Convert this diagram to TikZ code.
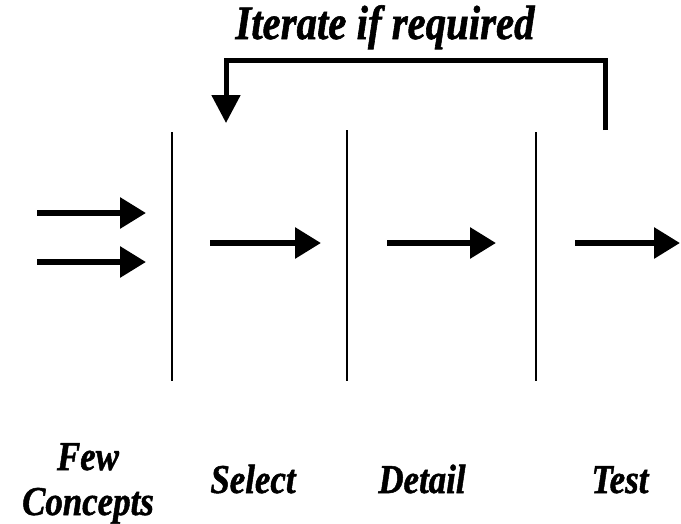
\documentclass[tikz,border=0pt]{standalone}
\usepackage{fontspec}
\setmainfont{Liberation Serif}
\newfontfamily\labfont[FakeStretch=0.85,FakeBold=1.2]{Liberation Serif}
\usetikzlibrary{arrows.meta}
\begin{document}
\begin{tikzpicture}[x=1pt,y=-1pt,
  lab/.style={font=\labfont\bfseries\itshape\fontsize{41}{44}\selectfont, inner sep=0pt, anchor=base},
  flow/.style={line width=6pt, -{Triangle[length=26pt,width=30pt]}},
  divider/.style={line width=2.2pt},
  loop/.style={line width=5pt}]
\useasboundingbox (0,0) rectangle (681,523);
% dividers
\coordinate (d1t) at (172,132); \coordinate (d1b) at (172,381);
\coordinate (d2t) at (347,130); \coordinate (d2b) at (347,381);
\coordinate (d3t) at (536,132); \coordinate (d3b) at (536,381);
\draw[divider] (d1t) -- (d1b);
\draw[divider] (d2t) -- (d2b);
\draw[divider] (d3t) -- (d3b);
% flow arrows
\coordinate (a1s) at (37,213);  \coordinate (a1e) at (146,213);
\coordinate (a2s) at (37,262);  \coordinate (a2e) at (146,262);
\coordinate (a3s) at (210,243); \coordinate (a3e) at (321,243);
\coordinate (a4s) at (387,243); \coordinate (a4e) at (496,243);
\coordinate (a5s) at (575,243); \coordinate (a5e) at (680,243);
\draw[flow] (a1s) -- (a1e);
\draw[flow] (a2s) -- (a2e);
\draw[flow] (a3s) -- (a3e);
\draw[flow] (a4s) -- (a4e);
\draw[flow] (a5s) -- (a5e);
% iterate loop
\coordinate (ls) at (605,130);
\coordinate (le) at (226,123);
\draw[loop, -{Triangle[length=28pt,width=28pt]}] (ls) -- (605,60) -- (226,60) -- (le);
\node[lab, font=\labfont\bfseries\itshape\fontsize{48}{52}\selectfont] (iter) at (385,39) {Iterate if required};
% labels
\node[lab] (few) at (88,470) {Few};
\node[lab] (conc) at (88,515) {Concepts};
\node[lab] (sel) at (253,493) {Select};
\node[lab] (det) at (422,493) {Detail};
\node[lab] (test) at (620,493) {Test};
\end{tikzpicture}
\end{document}
